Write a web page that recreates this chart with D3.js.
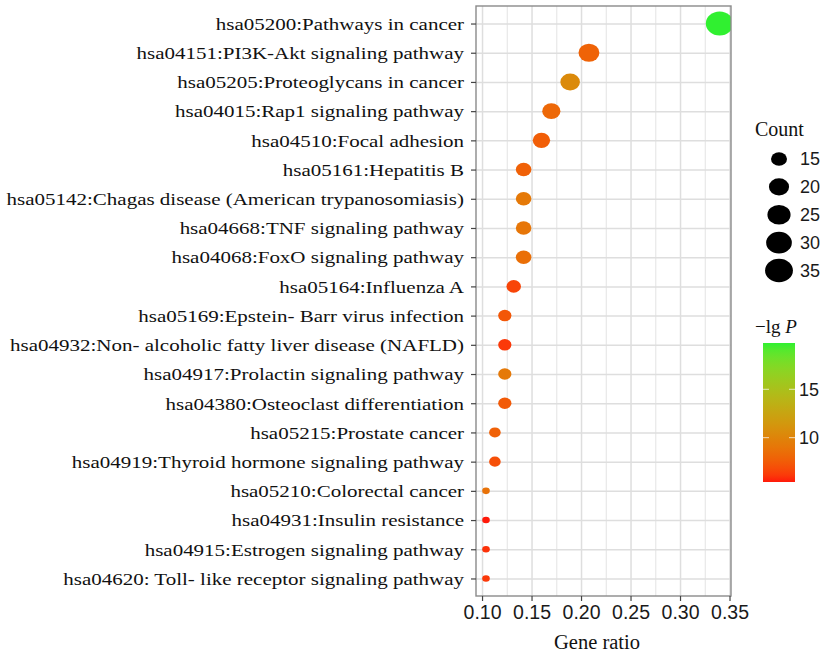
<!DOCTYPE html>
<html>
<head>
<meta charset="utf-8">
<script src="https://cdn.jsdelivr.net/npm/d3@7"></script>
<style>
  body { margin: 0; background: #fff; }
  svg { display: block; }
</style>
</head>
<body>
<div id="viz"></div>
<script>
// KEGG pathways, top to bottom
var pathways = [
  "hsa05200:Pathways in cancer",
  "hsa04151:PI3K-Akt signaling pathway",
  "hsa05205:Proteoglycans in cancer",
  "hsa04015:Rap1 signaling pathway",
  "hsa04510:Focal adhesion",
  "hsa05161:Hepatitis B",
  "hsa05142:Chagas disease (American trypanosomiasis)",
  "hsa04668:TNF signaling pathway",
  "hsa04068:FoxO signaling pathway",
  "hsa05164:Influenza A",
  "hsa05169:Epstein- Barr virus infection",
  "hsa04932:Non- alcoholic fatty liver disease (NAFLD)",
  "hsa04917:Prolactin signaling pathway",
  "hsa04380:Osteoclast differentiation",
  "hsa05215:Prostate cancer",
  "hsa04919:Thyroid hormone signaling pathway",
  "hsa05210:Colorectal cancer",
  "hsa04931:Insulin resistance",
  "hsa04915:Estrogen signaling pathway",
  "hsa04620: Toll- like receptor signaling pathway"
];
var geneRatio = [0.340, 0.208, 0.189, 0.170, 0.160, 0.142, 0.142, 0.142, 0.142, 0.132,
                 0.123, 0.123, 0.123, 0.123, 0.113, 0.113, 0.104, 0.104, 0.104, 0.104];
var counts    = [36, 22, 20, 18, 17, 15, 15, 15, 15, 14,
                 13, 13, 13, 13, 12, 12, 11, 11, 11, 11];
var logP      = [19.8, 7.9, 10.4, 8.2, 7.6, 7.8, 9.2, 9.0, 8.6, 6.5,
                 7.3, 6.1, 9.2, 7.4, 7.8, 6.9, 8.8, 5.4, 5.9, 6.1];

var xTicks = [0.10, 0.15, 0.20, 0.25, 0.30, 0.35];
var xMinor = [0.125, 0.175, 0.225, 0.275, 0.325];
var sizeBreaks = [15, 20, 25, 30, 35];
var colorTicks = [10, 15];

var W = 823, H = 654;
var panel = {left: 476, right: 731, top: 6, bottom: 596};
var serif = "'Liberation Serif','Times New Roman',serif";
var sans = "'Liberation Sans',Arial,sans-serif";
var stretch = 1.2;   // labels in the source are horizontally stretched

var svg = d3.select("#viz").append("svg")
    .attr("width", W)
    .attr("height", H);

var x = d3.scaleLinear()
    .domain([0.0939, 0.3515])
    .range([panel.left, panel.right]);

var y = d3.scalePoint()
    .domain(pathways)
    .range([panel.top, panel.bottom])
    .padding(0.6);

// ggplot-like area size: r = rmin + (rmax - rmin) * sqrt(rescaled)
var sizeT = d3.scaleLinear().domain(d3.extent(counts)).range([0, 1]).clamp(true);
function rad(c) { return 3.3 + 8.7 * Math.sqrt(sizeT(c)); }

var color = d3.scaleLinear()
    .domain([d3.min(logP), d3.max(logP)])
    .range(["#ff1a0a", "#30f030"])
    .interpolate(d3.interpolateLab);

// grid
var ph = panel.bottom - panel.top, pw = panel.right - panel.left;

svg.append("g")
    .attr("transform", "translate(0," + panel.bottom + ")")
    .call(d3.axisBottom(x).tickValues(xMinor).tickSize(-ph).tickFormat(""))
    .call(function(g) {
      g.select(".domain").remove();
      g.selectAll("line").attr("stroke", "#e6e6e6").attr("stroke-width", 1.1);
    });

svg.append("g")
    .attr("transform", "translate(0," + panel.bottom + ")")
    .call(d3.axisBottom(x).tickValues(xTicks).tickSize(-ph).tickFormat(""))
    .call(function(g) {
      g.select(".domain").remove();
      g.selectAll("line").attr("stroke", "#dedede").attr("stroke-width", 1.5);
    });

svg.append("g")
    .attr("transform", "translate(" + panel.left + ",0)")
    .call(d3.axisLeft(y).tickSize(-pw).tickFormat(""))
    .call(function(g) {
      g.select(".domain").remove();
      g.selectAll("line").attr("stroke", "#dedede").attr("stroke-width", 1.5);
    });

// points
svg.append("clipPath").attr("id", "clip")
  .append("rect")
    .attr("x", panel.left).attr("y", panel.top)
    .attr("width", pw).attr("height", ph);

svg.append("g")
    .attr("clip-path", "url(#clip)")
  .selectAll("ellipse")
  .data(pathways)
  .enter().append("ellipse")
    .attr("cx", function(d, i) { return x(geneRatio[i]); })
    .attr("cy", function(d) { return y(d); })
    .attr("rx", function(d, i) { return rad(counts[i]) * 1.15; })
    .attr("ry", function(d, i) { return rad(counts[i]); })
    .attr("fill", function(d, i) { return color(logP[i]); });

// panel border
svg.append("rect")
    .attr("x", panel.left).attr("y", panel.top)
    .attr("width", pw).attr("height", ph)
    .attr("fill", "none")
    .attr("stroke", "#8a8a8a")
    .attr("stroke-width", 1.4);

// axes
var xAxis = svg.append("g")
    .attr("transform", "translate(0," + panel.bottom + ")")
    .call(d3.axisBottom(x).tickValues(xTicks).tickSize(5).tickPadding(4).tickFormat(d3.format(".2f")));
xAxis.select(".domain").remove();
xAxis.selectAll("line").attr("stroke", "#444").attr("stroke-width", 1.2);
xAxis.selectAll("text")
    .attr("fill", "#1a1a1a")
    .style("font-family", sans)
    .style("font-size", "19.5px");

var yAxis = svg.append("g")
    .attr("transform", "translate(" + panel.left + ",0)")
    .call(d3.axisLeft(y).tickSize(5));
yAxis.select(".domain").remove();
yAxis.selectAll("line").attr("stroke", "#444").attr("stroke-width", 1.2);
yAxis.selectAll("text")
    .attr("x", -12 / stretch)
    .attr("dy", "0.33em")
    .attr("transform", "scale(" + stretch + ",1)")
    .attr("fill", "#111")
    .style("font-family", serif)
    .style("font-size", "17.5px");

svg.append("text")
    .attr("x", 597)
    .attr("y", 649)
    .attr("text-anchor", "middle")
    .attr("fill", "#111")
    .style("font-family", serif)
    .style("font-size", "20.5px")
    .text("Gene ratio");

// size legend
var sizeY = d3.scalePoint().domain(sizeBreaks).range([159, 270.5]);

svg.append("text")
    .attr("x", 755).attr("y", 136)
    .attr("fill", "#111")
    .style("font-family", serif)
    .style("font-size", "20px")
    .text("Count");

var sl = svg.append("g");
sl.selectAll("ellipse")
  .data(sizeBreaks)
  .enter().append("ellipse")
    .attr("cx", 779)
    .attr("cy", function(d) { return sizeY(d); })
    .attr("rx", function(d) { return rad(d) * 1.18; })
    .attr("ry", function(d) { return rad(d); })
    .attr("fill", "#000");
sl.selectAll("text")
  .data(sizeBreaks)
  .enter().append("text")
    .attr("x", 800)
    .attr("y", function(d) { return sizeY(d); })
    .attr("dy", "0.36em")
    .attr("fill", "#1a1a1a")
    .style("font-family", sans)
    .style("font-size", "18px")
    .text(function(d) { return d; });

// colour bar
var cb = {x: 763, w: 32, top: 343, bottom: 482};
var cy = d3.scaleLinear().domain(color.domain()).range([cb.bottom, cb.top]);

var grad = svg.append("defs").append("linearGradient")
    .attr("id", "grad")
    .attr("x1", 0).attr("y1", 1).attr("x2", 0).attr("y2", 0);
grad.selectAll("stop")
  .data(d3.range(0, 1.0001, 0.05))
  .enter().append("stop")
    .attr("offset", function(t) { return t; })
    .attr("stop-color", function(t) {
      var dm = color.domain();
      return color(dm[0] + t * (dm[1] - dm[0]));
    });

svg.append("text")
    .attr("x", 755).attr("y", 333)
    .attr("fill", "#111")
    .style("font-family", serif)
    .style("font-size", "19px")
    .html("\u2212lg <tspan font-style='italic'>P</tspan>");

svg.append("rect")
    .attr("x", cb.x).attr("y", cb.top)
    .attr("width", cb.w).attr("height", cb.bottom - cb.top)
    .attr("fill", "url(#grad)");

var ct = svg.append("g");
ct.selectAll("line.l")
  .data(colorTicks)
  .enter().append("line")
    .attr("x1", cb.x).attr("x2", cb.x + 6)
    .attr("y1", function(d) { return cy(d); })
    .attr("y2", function(d) { return cy(d); });
ct.selectAll("line.r")
  .data(colorTicks)
  .enter().append("line")
    .attr("x1", cb.x + cb.w - 6).attr("x2", cb.x + cb.w)
    .attr("y1", function(d) { return cy(d); })
    .attr("y2", function(d) { return cy(d); });
ct.selectAll("line")
    .attr("stroke", "#fff")
    .attr("stroke-opacity", 0.6)
    .attr("stroke-width", 1.2);
ct.selectAll("text")
  .data(colorTicks)
  .enter().append("text")
    .attr("x", 799)
    .attr("y", function(d) { return cy(d); })
    .attr("dy", "0.36em")
    .attr("fill", "#1a1a1a")
    .style("font-family", sans)
    .style("font-size", "18px")
    .text(function(d) { return d; });
</script>
</body>
</html>
